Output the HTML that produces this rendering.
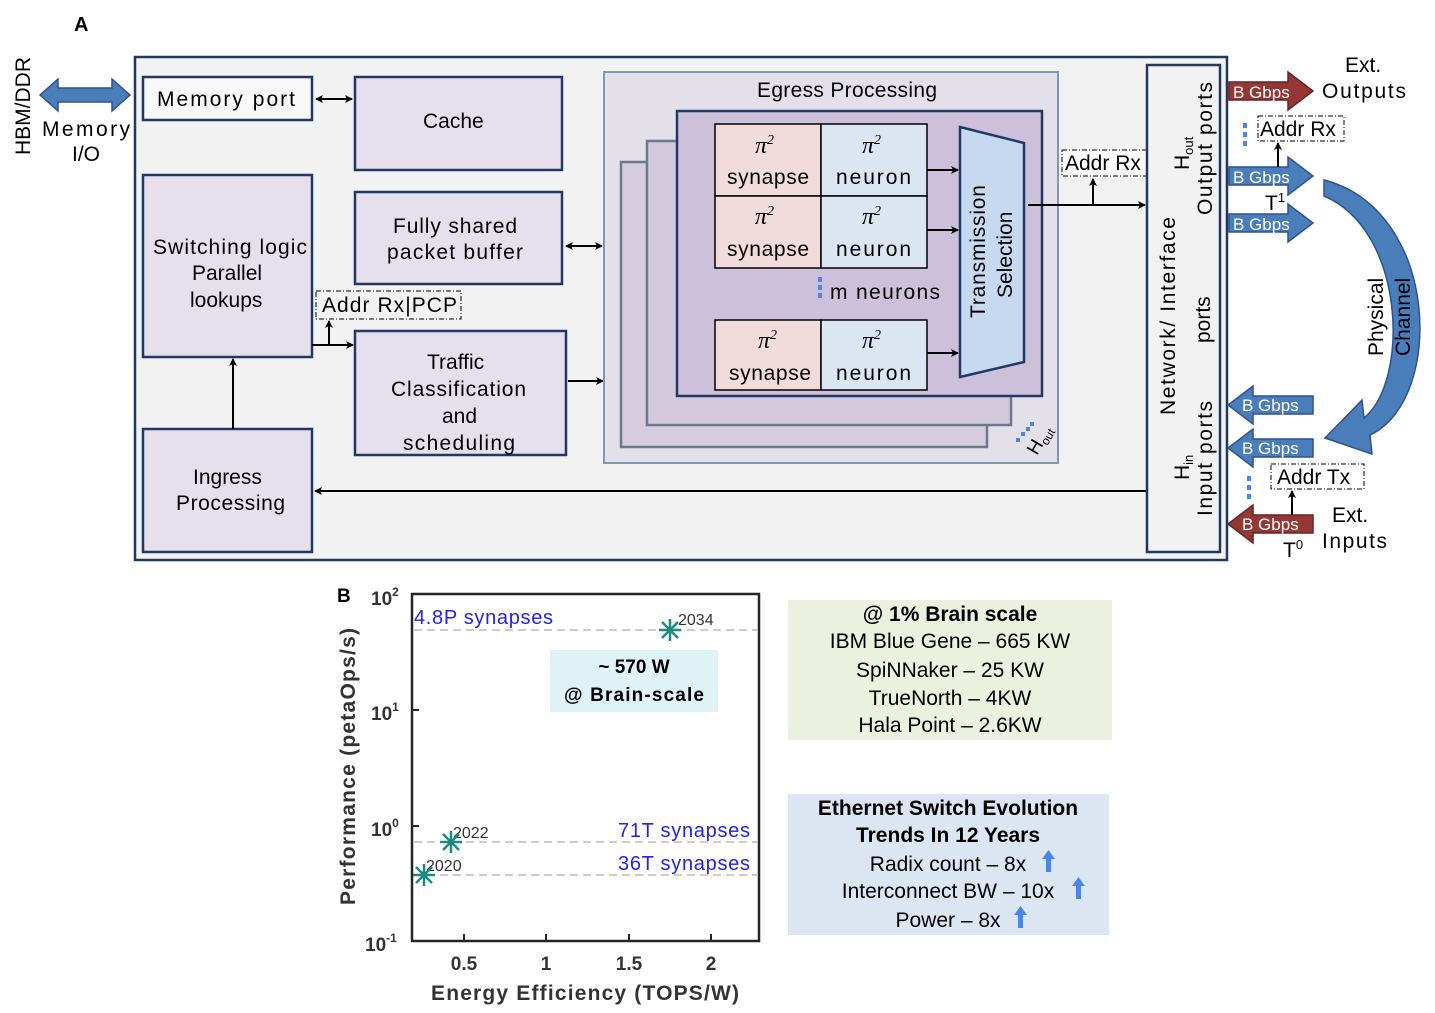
<!DOCTYPE html>
<html><head><meta charset="utf-8"><style>
body{margin:0;background:#fff;}
svg{display:block;font-family:"Liberation Sans",sans-serif;}
.t{font-size:21px;fill:#000;}
</style></head><body>
<svg width="1435" height="1013" viewBox="0 0 1435 1013" xmlns="http://www.w3.org/2000/svg">
<defs>
<marker id="ah" markerWidth="8" markerHeight="8" refX="7" refY="4" orient="auto" markerUnits="userSpaceOnUse"><path d="M0,0 L8,4 L0,8 L2,4 z" fill="#000"/></marker>
<marker id="as" markerWidth="8" markerHeight="8" refX="1" refY="4" orient="auto" markerUnits="userSpaceOnUse"><path d="M8,0 L0,4 L8,8 L6,4 z" fill="#000"/></marker>
</defs>
<text x="74" y="31" font-size="20" font-weight="bold">A</text>
<rect x="135" y="57" width="1092" height="503" fill="#f2f2f2" stroke="#203864" stroke-width="2.5"/>
<text class="t" transform="translate(30,155) rotate(-90)">HBM/DDR</text>
<path d="M40,95 L58,79 L58,88 L112,88 L112,79 L130,95 L112,111 L112,102 L58,102 L58,111 z" fill="#4a7ebb" stroke="#2f528f" stroke-width="1.5"/>
<text class="t" x="42" y="136" font-size="22" textLength="88">Memory</text>
<text class="t" x="72" y="161" font-size="22">I/O</text>
<g stroke="#203864" stroke-width="2.5">
<rect x="143" y="77" width="169" height="43" fill="#f8f8f8"/>
<rect x="355" y="77" width="207" height="93" fill="#e6e0ec"/>
<rect x="355" y="192" width="207" height="92" fill="#e6e0ec"/>
<rect x="143" y="175" width="169" height="182" fill="#e6e0ec"/>
<rect x="355" y="331" width="211" height="124" fill="#e6e0ec"/>
<rect x="143" y="429" width="169" height="123" fill="#e6e0ec"/>
</g>
<text class="t" x="157" y="106" textLength="138">Memory port</text>
<text class="t" x="423" y="128">Cache</text>
<text class="t" x="393" y="233" textLength="124">Fully shared</text>
<text class="t" x="387" y="259" textLength="136">packet buffer</text>
<text class="t" x="153" y="254" textLength="154">Switching logic</text>
<text class="t" x="192" y="280">Parallel</text>
<text class="t" x="190" y="307">lookups</text>
<text class="t" x="427" y="369">Traffic</text>
<text class="t" x="391" y="396" textLength="135">Classification</text>
<text class="t" x="442" y="423">and</text>
<text class="t" x="403" y="450" textLength="112">scheduling</text>
<text class="t" x="193" y="484">Ingress</text>
<text class="t" x="176" y="510" textLength="109">Processing</text>
<g stroke="#000" stroke-width="2" fill="none">
<line x1="316" y1="99" x2="352" y2="99" marker-end="url(#ah)" marker-start="url(#as)"/>
<line x1="566" y1="246" x2="602" y2="246" marker-end="url(#ah)" marker-start="url(#as)"/>
<line x1="312" y1="345" x2="353" y2="345" marker-end="url(#ah)"/>
<line x1="329" y1="345" x2="329" y2="321" marker-end="url(#ah)"/>
<line x1="568" y1="381" x2="603" y2="381" marker-end="url(#ah)"/>
<line x1="233" y1="429" x2="233" y2="359" marker-end="url(#ah)"/>
<line x1="1147" y1="491" x2="315" y2="491" marker-end="url(#ah)"/>
</g>
<rect x="316" y="291" width="145" height="28" fill="none" stroke="#000" stroke-dasharray="5,2,1,2"/>
<text class="t" x="322" y="312" textLength="135">Addr Rx|PCP</text>
<rect x="604" y="72" width="454" height="391" fill="#e4e0ea" stroke="#8497b0" stroke-width="2"/>
<text class="t" x="757" y="97" textLength="180">Egress Processing</text>
<rect x="621" y="162" width="366" height="285" fill="#d6cddf" stroke="#6a7a8e" stroke-width="2.5"/>
<rect x="647" y="141" width="364" height="284" fill="#d2c9dd" stroke="#6a7a8e" stroke-width="2.5"/>
<rect x="677" y="111" width="365" height="285" fill="#ccc0da" stroke="#203864" stroke-width="2.5"/>
<g stroke="#000" stroke-width="1.5">
<rect x="715" y="124" width="106" height="72" fill="#f2dcdb"/><rect x="821" y="124" width="106" height="72" fill="#dce6f2"/>
<rect x="715" y="196" width="106" height="72" fill="#f2dcdb"/><rect x="821" y="196" width="106" height="72" fill="#dce6f2"/>
<rect x="715" y="320" width="106" height="70" fill="#f2dcdb"/><rect x="821" y="320" width="106" height="70" fill="#dce6f2"/>
</g>
<g font-family="Liberation Serif,serif" font-style="italic" font-size="24">
<text x="755" y="153">π<tspan font-size="14" dy="-9">2</tspan></text>
<text x="862" y="153">π<tspan font-size="14" dy="-9">2</tspan></text>
<text x="755" y="224">π<tspan font-size="14" dy="-9">2</tspan></text>
<text x="862" y="224">π<tspan font-size="14" dy="-9">2</tspan></text>
<text x="758" y="348">π<tspan font-size="14" dy="-9">2</tspan></text>
<text x="862" y="348">π<tspan font-size="14" dy="-9">2</tspan></text>
</g>
<text class="t" x="727" y="184" textLength="82">synapse</text><text class="t" x="836" y="184" textLength="75">neuron</text>
<text class="t" x="727" y="256" textLength="82">synapse</text><text class="t" x="836" y="256" textLength="75">neuron</text>
<text class="t" x="729" y="380" textLength="82">synapse</text><text class="t" x="836" y="380" textLength="75">neuron</text>
<g fill="#4a86e8"><rect x="818" y="277" width="4" height="5"/><rect x="818" y="285" width="4" height="5"/><rect x="818" y="293" width="4" height="5"/></g>
<text class="t" x="830" y="299" textLength="110">m neurons</text>
<g stroke="#000" stroke-width="2"><line x1="927" y1="170" x2="958" y2="170" marker-end="url(#ah)"/><line x1="927" y1="230" x2="958" y2="230" marker-end="url(#ah)"/><line x1="927" y1="353" x2="958" y2="353" marker-end="url(#ah)"/></g>
<path d="M960,127 L1024,143 L1024,362 L960,377 z" fill="#c6d9f1" stroke="#203864" stroke-width="2.5"/>
<text class="t" transform="translate(985,318) rotate(-90)" textLength="133">Transmission</text>
<text class="t" transform="translate(1012,298) rotate(-90)">Selection</text>
<g fill="#4a86e8"><rect x="1016" y="438" width="4" height="4"/><rect x="1021" y="432" width="4" height="4"/><rect x="1026" y="427" width="4" height="4"/><rect x="1030" y="422" width="4" height="4"/></g>
<text transform="translate(1037,456) rotate(-60)" font-size="19">H<tspan font-size="12" dy="4">out</tspan></text>
<g stroke="#000" stroke-width="2"><line x1="1028" y1="205" x2="1145" y2="205" marker-end="url(#ah)"/><line x1="1093" y1="205" x2="1093" y2="179" marker-end="url(#ah)"/></g>
<rect x="1062" y="150" width="85" height="26" fill="#fff" stroke="#000" stroke-dasharray="5,2,1,2"/>
<text class="t" x="1065" y="170">Addr Rx</text>
<rect x="1147" y="65" width="73" height="487" fill="#f2f2f2" stroke="#203864" stroke-width="2.5"/>
<text class="t" transform="translate(1175,415) rotate(-90)" textLength="198">Network/ Interface</text>
<text class="t" transform="translate(1210,343) rotate(-90)">ports</text>
<text transform="translate(1189,170) rotate(-90)" font-size="21">H<tspan font-size="13" dy="4">out</tspan></text>
<text class="t" transform="translate(1212,215) rotate(-90)" textLength="133">Output ports</text>
<text transform="translate(1189,480) rotate(-90)" font-size="21">H<tspan font-size="13" dy="4">in</tspan></text>
<text class="t" transform="translate(1212,516) rotate(-90)" textLength="115">Input ports</text>
<path d="M1229,82 L1288,82 L1288,72 L1313,91 L1288,110 L1288,100 L1229,100 z" fill="#953735" stroke="#632523" stroke-width="1.5"/>
<text x="1233" y="98" font-size="17" fill="#fff">B Gbps</text>
<path d="M1229,167 L1288,167 L1288,157 L1313,176 L1288,195 L1288,185 L1229,185 z" fill="#4a7ebb" stroke="#2f528f" stroke-width="1.5"/>
<text x="1233" y="183" font-size="17" fill="#fff">B Gbps</text>
<path d="M1229,214 L1288,214 L1288,204 L1313,223 L1288,242 L1288,232 L1229,232 z" fill="#4a7ebb" stroke="#2f528f" stroke-width="1.5"/>
<text x="1233" y="230" font-size="17" fill="#fff">B Gbps</text>
<path d="M1313,396 L1253,396 L1253,386 L1228,405 L1253,424 L1253,414 L1313,414 z" fill="#4a7ebb" stroke="#2f528f" stroke-width="1.5"/>
<text x="1242" y="411" font-size="17" fill="#fff">B Gbps</text>
<path d="M1313,439 L1253,439 L1253,429 L1228,448 L1253,467 L1253,457 L1313,457 z" fill="#4a7ebb" stroke="#2f528f" stroke-width="1.5"/>
<text x="1242" y="454" font-size="17" fill="#fff">B Gbps</text>
<path d="M1313,515 L1253,515 L1253,505 L1228,524 L1253,543 L1253,533 L1313,533 z" fill="#953735" stroke="#632523" stroke-width="1.5"/>
<text x="1242" y="530" font-size="17" fill="#fff">B Gbps</text>
<text class="t" x="1345" y="72">Ext.</text>
<text class="t" x="1322" y="98" textLength="84">Outputs</text>
<text class="t" x="1332" y="522">Ext.</text>
<text class="t" x="1322" y="548" textLength="65">Inputs</text>
<rect x="1258" y="116" width="86" height="25" fill="#fff" stroke="#000" stroke-dasharray="5,2,1,2"/>
<text class="t" x="1260" y="136">Addr Rx</text>
<rect x="1271" y="464" width="93" height="25" fill="#fff" stroke="#000" stroke-dasharray="5,2,1,2"/>
<text class="t" x="1277" y="484">Addr Tx</text>
<g fill="#4a86e8"><rect x="1243" y="123" width="4" height="5"/><rect x="1243" y="132" width="4" height="5"/><rect x="1243" y="141" width="4" height="5"/>
<rect x="1247" y="476" width="4" height="5"/><rect x="1247" y="485" width="4" height="5"/><rect x="1247" y="494" width="4" height="5"/></g>
<g stroke="#000" stroke-width="2"><line x1="1278" y1="167" x2="1278" y2="143" marker-end="url(#ah)"/><line x1="1292" y1="515" x2="1292" y2="491" marker-end="url(#ah)"/></g>
<text class="t" x="1265" y="210">T<tspan font-size="13" dy="-8">1</tspan></text>
<text class="t" x="1283" y="557">T<tspan font-size="13" dy="-8">0</tspan></text>
<path d="M1324,180 C1440,210 1445,400 1370,435 L1372,454 L1325,438 L1362,400 L1364,418 C1410,380 1405,230 1324,196 z" fill="#4a7ebb" stroke="#2f528f" stroke-width="1.5"/>
<text class="t" transform="translate(1383,356) rotate(-90)">Physical</text>
<text class="t" transform="translate(1410,356) rotate(-90)">Channel</text>
<text x="337" y="602" font-size="19" font-weight="bold">B</text>
<rect x="412" y="594" width="347" height="347" fill="#fff" stroke="#262626" stroke-width="2.5"/>
<g stroke="#bbb" stroke-width="1.5" stroke-dasharray="8,5"><line x1="414" y1="630" x2="757" y2="630"/><line x1="414" y1="842" x2="757" y2="842"/><line x1="414" y1="875" x2="757" y2="875"/></g>
<rect x="550" y="650" width="168" height="62" fill="#dff3f7"/>
<text x="634" y="673" font-size="19" font-weight="bold" text-anchor="middle">~ 570 W</text>
<text x="634" y="701" font-size="19" font-weight="bold" text-anchor="middle" textLength="140">@ Brain-scale</text>
<g fill="#2222ee" font-size="20"><text x="414" y="624" textLength="139">4.8P synapses</text><text x="618" y="837" textLength="132">71T synapses</text><text x="618" y="870" textLength="132">36T synapses</text></g>
<g fill="#333" font-size="16"><text x="678" y="625">2034</text><text x="453" y="838">2022</text><text x="426" y="871">2020</text></g>
<g stroke="#1f8a80" stroke-width="2.5">
<path d="M659,630 h22 M670,619 v22 M662,622 l16,16 M678,622 l-16,16"/>
<path d="M440,842 h22 M451,831 v22 M443,834 l16,16 M459,834 l-16,16"/>
<path d="M413,875 h22 M424,864 v22 M416,867 l16,16 M432,867 l-16,16"/>
</g>
<g stroke="#262626" stroke-width="2"><line x1="464" y1="941" x2="464" y2="934"/><line x1="546" y1="941" x2="546" y2="934"/><line x1="629" y1="941" x2="629" y2="934"/><line x1="711" y1="941" x2="711" y2="934"/>
<line x1="412" y1="710" x2="419" y2="710"/><line x1="412" y1="826" x2="419" y2="826"/></g>
<g font-size="19" font-weight="bold" fill="#333" text-anchor="middle"><text x="464" y="970">0.5</text><text x="546" y="970">1</text><text x="629" y="970">1.5</text><text x="711" y="970">2</text></g>
<g font-size="19" font-weight="bold" fill="#333"><text x="371" y="605">10<tspan font-size="12" dy="-9">2</tspan></text><text x="371" y="720">10<tspan font-size="12" dy="-9">1</tspan></text><text x="371" y="836">10<tspan font-size="12" dy="-9">0</tspan></text><text x="365" y="951">10<tspan font-size="12" dy="-9">-1</tspan></text></g>
<text x="431" y="1000" font-size="21" font-weight="bold" fill="#333" textLength="308">Energy Efficiency (TOPS/W)</text>
<text transform="translate(355,905) rotate(-90)" font-size="21" font-weight="bold" fill="#333" textLength="277">Performance (petaOps/s)</text>
<rect x="788" y="600" width="324" height="140" fill="#ebf1de"/>
<g font-size="21" text-anchor="middle"><text x="950" y="621" font-weight="bold">@ 1% Brain scale</text><text x="950" y="648">IBM Blue Gene – 665 KW</text><text x="950" y="677">SpiNNaker – 25 KW</text><text x="950" y="705">TrueNorth – 4KW</text><text x="950" y="732">Hala Point – 2.6KW</text></g>
<rect x="788" y="794" width="321" height="141" fill="#dce6f2"/>
<g font-size="21" text-anchor="middle"><text x="948" y="815" font-weight="bold">Ethernet Switch Evolution</text><text x="948" y="842" font-weight="bold">Trends In 12 Years</text><text x="948" y="871">Radix count – 8x</text><text x="948" y="898">Interconnect BW – 10x</text><text x="948" y="927">Power – 8x</text></g>
<g fill="#4a86e8"><path d="M1046,872 h5 v-13 h4 l-6.5,-9 l-6.5,9 h4 z"/><path d="M1076,899 h5 v-13 h4 l-6.5,-9 l-6.5,9 h4 z"/><path d="M1018,928 h5 v-13 h4 l-6.5,-9 l-6.5,9 h4 z"/></g>
</svg>
</body></html>
